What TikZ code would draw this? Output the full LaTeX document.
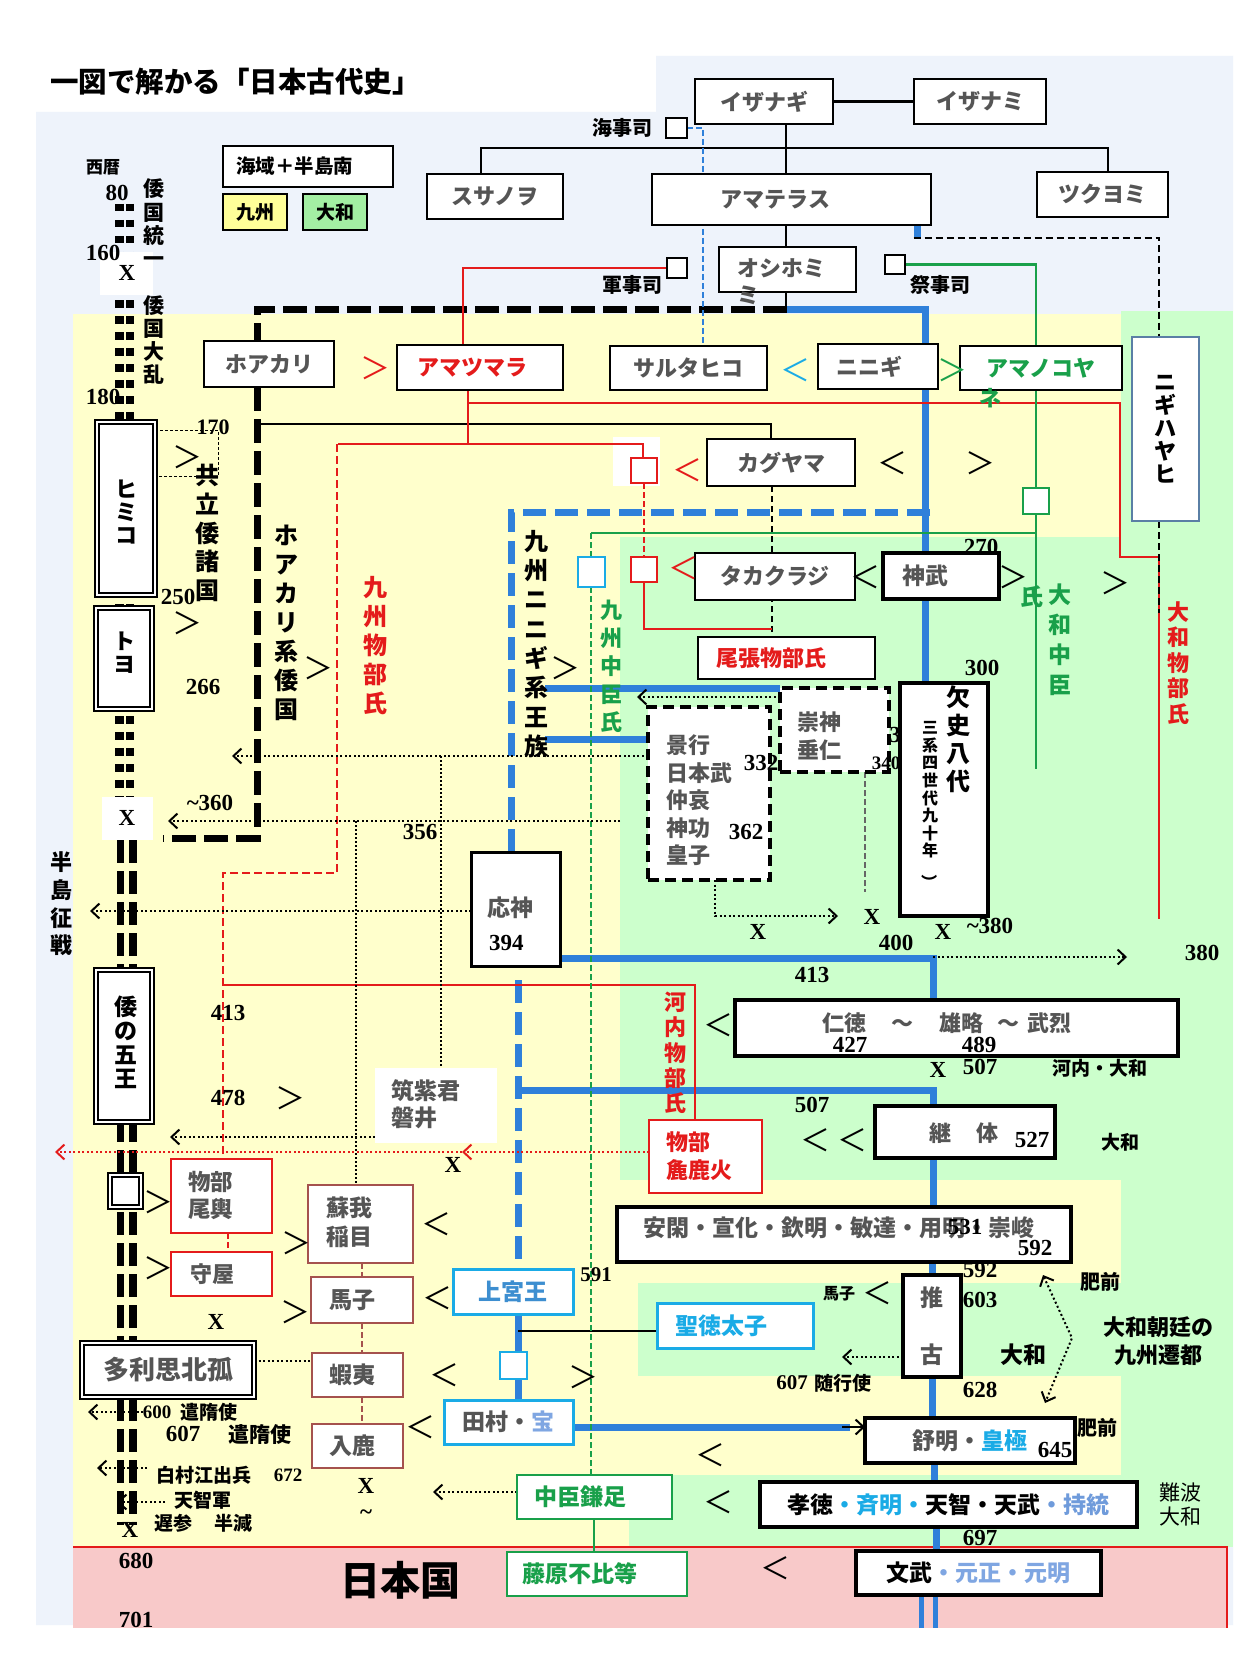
\documentclass[tikz,border=0pt]{standalone}
\usepackage{fontspec}
\usepackage{graphicx}
\setmainfont{Noto Sans CJK JP}
\newfontfamily\numf{Liberation Serif}
\usetikzlibrary{arrows.meta}
\definecolor{cBgb}{HTML}{EEF3FB}
\definecolor{cBgy}{HTML}{FFFFCC}
\definecolor{cBgg}{HTML}{CCFFCC}
\definecolor{cBgp}{HTML}{F8C9C9}
\definecolor{cBl}{HTML}{2F80DA}
\definecolor{cCy}{HTML}{1AABE6}
\definecolor{cRd}{HTML}{E41B1B}
\definecolor{cGn}{HTML}{19A04A}
\definecolor{cBr}{HTML}{A5524E}
\definecolor{cGt}{HTML}{555555}
\definecolor{cSb}{HTML}{3D8ED0}
\definecolor{cLb}{HTML}{7FA6E2}
\definecolor{cJt}{HTML}{6F9BDB}
\definecolor{cNb}{HTML}{5A7FA5}
\definecolor{cLY}{HTML}{FFFF99}
\definecolor{cLG}{HTML}{A3EFA3}
\pgfdeclarelayer{back}
\pgfdeclarelayer{mid}
\pgfsetlayers{back,mid,main}
\newcommand\myfs[2]{\fontsize{#1}{#2}\selectfont}
\newcommand\bxn[7]{\node[#2,minimum width={#5-#3},minimum height={#6-#4}] (#1) at ({(#3+#5)/2},{(#4+#6)/2}) {#7};}
\tikzset{
 base/.style={inner sep=0pt, outer sep=0pt, align=center},
 kb/.style={base, draw, line width=1.3pt, fill=white, text=cGt, font=\bfseries\myfs{22}{27}},
 tb/.style={base, draw, line width=4.5pt, fill=white, text=cGt, font=\bfseries\myfs{23}{27}},
 db/.style={base, draw, line width=4pt, dash pattern=on 11pt off 6pt, fill=white},
 rb/.style={base, draw=cRd, line width=2.8pt, fill=white, text=cGt, font=\bfseries\myfs{22}{27}},
 bb/.style={base, draw=cBr, line width=2.8pt, fill=white, text=cGt, font=\bfseries\myfs{23}{27}},
 cb/.style={base, draw=cCy, line width=3pt, fill=white, text=cGt, font=\bfseries\myfs{23}{27}},
 gb/.style={base, draw=cGn, line width=1.3pt, fill=white, text=cGn, font=\bfseries\myfs{23}{27}},
 wb/.style={base, draw, double=white, line width=1.6pt, double distance=2.4pt, fill=white},
 sq/.style={base, draw, line width=2pt, fill=white},
 nm/.style={base, font=\numf\bfseries\myfs{23}{23}},
 lab/.style={base, font=\bfseries\myfs{#1}{#1}},
 vt/.style 2 args={base, font=\bfseries\myfs{#1}{#2}},
 ch/.style={base, font=\myfs{30}{30}},
 dt/.style={line width=2pt, dash pattern=on 2pt off 2.5pt},
 ar/.style={-{Straight Barb[length=8pt,width=15pt,line width=2pt]}},
 lw/.style={line width=2.5pt},
 bw/.style={cBl, line width=7pt},
}
\begin{document}
\begin{tikzpicture}[x=1pt,y=-1pt]
\useasboundingbox (0,0) rectangle (1260,1680);

% ================= boxes =================
\node[base, anchor=west, font=\bfseries\myfs{28.5}{28.5}] (title) at (50,82) {一図で解かる「日本古代史」};
\bxn{lgA}{kb,text=black,font=\bfseries\myfs{19.5}{20}}{223}{146}{393}{187}{海域＋半島南\hspace{27pt}}
\bxn{lgB}{kb,fill=cLY,text=black,font=\bfseries\myfs{19}{20}}{223}{194}{287}{230}{九州}
\bxn{lgC}{kb,fill=cLG,text=black,font=\bfseries\myfs{19}{20}}{303}{194}{367}{230}{大和}

\bxn{izanagi}{kb}{695}{79}{833}{124}{イザナギ}
\bxn{izanami}{kb}{914}{79}{1046}{124}{イザナミ}
\bxn{susanoo}{kb}{427}{174}{563}{219}{スサノヲ}
\bxn{amaterasu}{kb}{652}{174}{931}{225}{アマテラス\hspace{32pt}}
\bxn{tsukuyomi}{kb}{1037}{172}{1168}{217}{ツクヨミ}
\bxn{oshihomi}{kb}{719}{247}{856}{292}{}
\node[base, anchor=north west, align=left, text=cGt, font=\bfseries\myfs{22}{27}] (oshiT) at (737,259) {オシホミ\\ミ};
\bxn{kaiji}{sq}{666}{118}{687}{138}{}
\bxn{gunji}{sq}{667}{258}{687}{278}{}
\bxn{saiji}{sq}{885}{255}{905}{274}{}

\bxn{hoakari}{kb}{204}{341}{334}{387}{ホアカリ}
\bxn{amatsumara}{kb,text=cRd}{397}{345}{563}{390}{アマツマラ\hspace{16pt}}
\bxn{sarutahiko}{kb}{610}{346}{767}{390}{サルタヒコ}
\bxn{ninigi}{kb}{818}{344}{938}{389}{ニニギ\hspace{18pt}}
\bxn{amanokoyane}{kb,text=cGn}{960}{346}{1122}{390}{アマノコヤ}
\node[base, text=cGn, font=\bfseries\myfs{22}{22}] (neT) at (990,398) {ネ};
\bxn{nigihayahi}{kb,draw=cNb,line width=1.2pt,text=black,font=\bfseries\myfs{22}{23}}{1132}{337}{1199}{521}{ニ\\ギ\\ハ\\ヤ\\ヒ}
\bxn{kaguyama}{kb}{707}{439}{855}{486}{カグヤマ}
\bxn{takakuraji}{kb}{695}{553}{855}{600}{タカクラジ}
\bxn{owari}{kb,text=cRd}{698}{637}{875}{679}{尾張物部氏\hspace{30pt}}
\bxn{rsq1}{sq,draw=cRd,line width=2.5pt}{631}{458}{657}{483}{}
\bxn{rsq2}{sq,draw=cRd,line width=2.5pt}{631}{557}{657}{582}{}
\bxn{gsq}{sq,draw=cGn,line width=2.5pt}{1023}{488}{1049}{514}{}
\bxn{bsq}{sq,draw=cCy,line width=2.5pt}{578}{557}{605}{587}{}

\node[nm] (n270) at (981,547) {270};
\bxn{jinmu}{tb}{883}{553}{999}{599}{神武\hspace{32pt}}
\node[nm] (n3) at (895,735) {3};
\bxn{keshi}{tb}{900}{683}{988}{916}{}
\node[vt={24}{28}] (keshiA) at (958,739) {欠\\史\\八\\代};
\node[vt={16}{17.6}] (keshiB) at (930,806) {三\\系\\四\\世\\代\\九\\十\\年\\\rotatebox{-90}{）}};
\bxn{sujin}{db}{780}{688}{889}{772}{}
\node[base, anchor=west, align=left, text=cGt, font=\bfseries\myfs{22}{28}] (sujinT) at (797,736) {崇神\\垂仁};
\bxn{keiko}{db}{648}{707}{770}{880}{}
\node[base, anchor=north west, align=left, text=cGt, font=\bfseries\myfs{22}{27.5}] (keikoT) at (666,735) {景行\\日本武\\仲哀\\神功\\皇子};
\node[nm] (n332) at (761,763) {332};
\node[nm] (n362) at (746,832) {362};
\node[nm, font=\numf\bfseries\myfs{19}{19}] (n340) at (886,763) {340};

\bxn{oujin}{tb,line width=3pt}{471}{852}{560}{966}{}
\node[base, anchor=west, text=cGt, font=\bfseries\myfs{23}{23}] (oujinT) at (487,908) {応神};
\node[nm, anchor=west] (n394) at (489,943) {394};
\bxn{nintoku}{tb}{735}{1000}{1178}{1056}{}
\node[base, anchor=west, text=cGt, font=\bfseries\myfs{22}{22}] (nintokuT) at (822,1023) {仁徳\hspace{26pt}～\hspace{26pt}雄略\hspace{13pt}～\hspace{8pt}武烈};
\node[nm] (n427) at (850,1045) {427};
\node[nm] (n489) at (979,1045) {489};
\bxn{keitai}{tb,line width=4pt}{875}{1106}{1055}{1158}{}
\node[base, text=cGt, font=\bfseries\myfs{22}{22}] (keitaiT) at (964,1133) {継\hspace{25pt}体};
\node[nm] (n527) at (1032,1140) {527};
\bxn{arakabi}{rb}{649}{1120}{762}{1193}{}
\node[base, anchor=west, align=left, text=cRd, font=\bfseries\myfs{22}{28}] (arakabiT) at (666,1156) {物部\\麁鹿火};
\bxn{tsukushi}{base,fill=white}{375}{1068}{497}{1143}{}
\node[base, anchor=west, align=left, text=cGt, font=\bfseries\myfs{23}{27}] (tsukushiT) at (391,1104.5) {筑紫君\\磐井};
\bxn{ankan}{tb}{617}{1207}{1071}{1262}{}
\node[base, anchor=west, text=cGt, font=\bfseries\myfs{23}{23}] (ankanT) at (643,1228) {安閑・宣化・欽明・敏達・用明・崇峻};
\node[nm] (n531) at (965,1227) {531};
\node[nm] (n592a) at (1035,1248) {592};
\node[nm, font=\numf\bfseries\myfs{21}{21}] (n591) at (596,1275) {591};
\bxn{jogu}{cb,text=cSb}{453}{1269}{573}{1314}{上宮王}
\bxn{shotoku}{cb,text=cCy}{657}{1303}{813}{1348}{聖徳太子\hspace{28pt}}
\bxn{brk}{cb,line width=2pt}{500}{1352}{527}{1379}{}
\bxn{tamura}{cb}{444}{1400}{573}{1444}{田村・\textcolor{cLb}{宝}}
\bxn{kamatari}{gb}{517}{1475}{672}{1519}{中臣鎌足\hspace{28pt}}
\bxn{fuhito}{gb}{507}{1552}{687}{1596}{藤原不比等\hspace{34pt}}
\bxn{suiko}{tb,line width=4pt}{903}{1275}{961}{1377}{}
\node[base, text=cGt, font=\bfseries\myfs{23}{23}] (suikoA) at (932,1298) {推};
\node[base, text=cGt, font=\bfseries\myfs{23}{23}] (suikoB) at (932,1355) {古};
\bxn{jomei}{tb}{865}{1418}{1075}{1463}{舒明・\textcolor{cCy}{皇極}}
\node[nm] (n645) at (1055,1450) {645};
\bxn{kotoku}{tb,text=black}{760}{1482}{1137}{1527}{孝徳\textcolor{cCy}{・斉明・}天智・天武\textcolor{cJt}{・持統}}
\bxn{monmu}{tb,text=black}{856}{1551}{1101}{1595}{文武\textcolor{cLb}{・元正・元明}}

% left column boxes
\bxn{himiko}{wb}{97}{422}{155}{595}{}
\node[vt={22}{23}] (himikoT) at (126,512) {ヒ\\ミ\\コ};
\bxn{toyo}{wb}{96}{608}{152}{709}{}
\node[vt={22}{23}] (toyoT) at (124,653) {ト\\ヨ};
\bxn{wanogoo}{wb}{96}{970}{152}{1122}{}
\node[vt={23}{24}] (wanogooT) at (126,1042) {倭\\の\\五\\王};
\bxn{smallsq}{wb}{110}{1175}{141}{1207}{}
\bxn{tarishi}{wb,text=cGt,font=\bfseries\myfs{26}{26}}{82}{1343}{254}{1397}{多利思北孤}
\bxn{okoshi}{rb}{171}{1159}{272}{1233}{}
\node[base, anchor=west, align=left, text=cGt, font=\bfseries\myfs{22.5}{27}] (okoshiT) at (188,1195.5) {物部\\尾輿};
\bxn{moriya}{rb}{171}{1252}{272}{1296}{守屋\hspace{19pt}}
\bxn{iname}{bb}{308}{1185}{413}{1263}{}
\node[base, anchor=west, align=left, text=cGt, font=\bfseries\myfs{23}{29}] (inameT) at (326,1222.5) {蘇我\\稲目};
\bxn{umako}{bb}{311}{1277}{413}{1323}{馬子\hspace{20pt}}
\bxn{emishi}{bb}{312}{1353}{403}{1397}{蝦夷\hspace{10pt}}
\bxn{iruka}{bb}{312}{1424}{403}{1468}{入鹿\hspace{10pt}}

% ================= labels =================
\node[lab=20] (l1) at (622,128) {海事司};
\node[lab=20] (l2) at (632,285) {軍事司};
\node[lab=20] (l3) at (940,285) {祭事司};
\node[lab=17] (l4) at (103,167) {西暦};
\node[nm] (y80) at (117,193) {80};
\node[nm] (y160) at (103,253) {160};
\node[nm] (x1) at (127,273) {X};
\node[nm] (y180) at (103,397) {180};
\node[nm, font=\numf\bfseries\myfs{22}{22}] (y170) at (213,427) {170};
\node[vt={21}{23.3}] (v1) at (154,223) {倭\\国\\統\\一};
\node[vt={21}{23.3}] (v2) at (154,340) {倭\\国\\大\\乱};
\node[vt={24}{28.6}] (v3) at (207,533) {共\\立\\倭\\諸\\国};
\node[nm] (y250) at (178,597) {250};
\node[nm] (y266) at (203,687) {266};
\node[vt={24}{29}] (v4) at (286,623) {ホ\\ア\\カ\\リ\\系\\倭\\国};
\node[vt={24}{29}, text=cRd] (v5) at (375,646) {九\\州\\物\\部\\氏};
\node[nm] (y360) at (210,803) {\textasciitilde360};
\node[nm] (x2) at (127,818) {X};
\node[nm] (y356) at (420,832) {356};
\node[vt={24}{29.3}] (v6) at (536,644) {九\\州\\ニ\\ニ\\ギ\\系\\王\\族};
\node[vt={22}{28}, text=cGn] (v7) at (611,666) {九\\州\\中\\臣\\氏};
\node[vt={23}{30}, text=cGn] (v8) at (1060,640) {大\\和\\中\\臣};
\node[base, text=cGn, font=\bfseries\myfs{23}{23}] (v8b) at (1032,597) {氏};
\node[vt={22}{25.5}, text=cRd] (v9) at (1178,663) {大\\和\\物\\部\\氏};
\node[nm] (y300) at (982,668) {300};
\node[vt={22}{27.6}] (v10) at (61,904) {半\\島\\征\\戦};
\node[nm] (x3) at (758,932) {X};
\node[nm] (x4) at (872,917) {X};
\node[nm] (y400) at (896,943) {400};
\node[nm] (x5) at (943,932) {X};
\node[nm] (y380a) at (990,926) {\textasciitilde380};
\node[nm] (y380b) at (1202,953) {380};
\node[nm] (y413a) at (812,975) {413};
\node[nm] (x6) at (938,1070) {X};
\node[nm] (y507a) at (980,1067) {507};
\node[lab=19] (l5) at (1100,1068) {河内・大和};
\node[nm] (y507b) at (812,1105) {507};
\node[lab=19] (l6) at (1120,1142) {大和};
\node[vt={22}{25.3}, text=cRd] (v11) at (675,1053) {河\\内\\物\\部\\氏};
\node[nm] (y413b) at (228,1013) {413};
\node[nm] (y478) at (228,1098) {478};
\node[nm] (x7) at (453,1165) {X};
\node[nm] (x8) at (216,1322) {X};
\node[nm] (x9) at (366,1486) {X};
\node[nm] (t1) at (366,1515) {\textasciitilde};
\node[lab=16] (l7) at (839,1294) {馬子};
\node[nm, font=\numf\bfseries\myfs{21}{21}] (y607b) at (792,1383) {607};
\node[lab=19] (l8) at (843,1383) {随行使};
\node[nm] (y592b) at (980,1270) {592};
\node[nm] (y603) at (980,1300) {603};
\node[nm] (y628) at (980,1390) {628};
\node[lab=23] (l9) at (1023,1355) {大和};
\node[lab=20] (l10) at (1100,1282) {肥前};
\node[lab=20] (l11) at (1097,1428) {肥前};
\node[vt={22}{28}] (l12) at (1158,1341) {大和朝廷の\\九州遷都};
\node[base, font=\myfs{21}{24}] (l13) at (1180,1504) {難波\\大和};
\node[nm] (y697) at (980,1538) {697};
\node[nm, font=\numf\bfseries\myfs{19}{19}] (y600) at (157,1412) {600};
\node[lab=19] (l14) at (209,1412) {遣隋使};
\node[nm] (y607a) at (183,1434) {607};
\node[lab=21] (l15) at (260,1434) {遣隋使};
\node[lab=19] (l16) at (204,1475) {白村江出兵};
\node[nm, font=\numf\bfseries\myfs{19}{19}] (y672) at (288,1475) {672};
\node[lab=19] (l17) at (203,1500) {天智軍};
\node[lab=19] (l18) at (173,1523) {遅参};
\node[lab=19] (l19) at (233,1523) {半減};
\node[nm] (x10) at (130,1530) {X};
\node[nm] (y680) at (136,1561) {680};
\node[nm] (y701) at (136,1620) {701};
\node[lab=40] (l20) at (400,1580) {日本国};

% chevrons
\node[ch, text=cRd] (c1) at (375,368) {＞};
\node[ch, text=cCy] (c2) at (795,370) {＜};
\node[ch, text=cGn] (c3) at (952,370) {＞};
\node[ch, text=cRd] (c4) at (687,470) {＜};
\node[ch, text=cRd] (c5) at (683,568) {＜};
\node[ch] (c6) at (892,463) {＜};
\node[ch] (c7) at (980,463) {＞};
\node[ch] (c8) at (865,577) {＜};
\node[ch] (c9) at (1013,577) {＞};
\node[ch] (c10) at (1115,583) {＞};
\node[ch] (c11) at (187,457) {＞};
\node[ch] (c12) at (187,623) {＞};
\node[ch] (c13) at (318,668) {＞};
\node[ch] (c14) at (565,668) {＞};
\node[ch] (c15) at (718,1025) {＜};
\node[ch] (c16) at (290,1098) {＞};
\node[ch] (c17) at (815,1140) {＜};
\node[ch] (c18) at (852,1140) {＜};
\node[ch] (c19) at (158,1202) {＞};
\node[ch] (c20) at (296,1243) {＞};
\node[ch] (c21) at (436,1224) {＜};
\node[ch] (c22) at (158,1268) {＞};
\node[ch] (c23) at (295,1312) {＞};
\node[ch] (c24) at (437,1298) {＜};
\node[ch] (c25) at (444,1375) {＜};
\node[ch] (c26) at (583,1377) {＞};
\node[ch] (c27) at (420,1427) {＜};
\node[ch] (c28) at (710,1455) {＜};
\node[ch] (c29) at (718,1502) {＜};
\node[ch] (c30) at (775,1568) {＜};
\node[ch] (c31) at (877,1293) {＜};

% free-end coordinates
\coordinate (p821) at (620,821);
\coordinate (p957) at (933,957);

% ================= backgrounds =================
\begin{pgfonlayer}{back}
\fill[white] (0,0) rectangle (1260,1680);
\fill[cBgb] (36,112) -- (656,112) -- (656,56) -- (1233,56) -- (1233,1625) -- (36,1625) -- cycle;
\fill[cBgy] (73,314) rectangle (1121,1547);
\fill[cBgg] (1121,311) rectangle (1233,1547);
\fill[cBgg] (620,537) rectangle (1121,1180);
\fill[cBgg] (638,1283) rectangle (1121,1376);
\fill[cBgg] (629,1475) rectangle (1121,1547);
\fill[cBgp] (73,1547) rectangle (1227,1628);
\draw[cRd, line width=2pt] (73,1547) -- (1227,1547) -- (1227,1628);
\end{pgfonlayer}

% ================= lines =================
\begin{pgfonlayer}{mid}
% timeline
\draw[line width=9pt, dash pattern=on 7.5pt off 8.5pt] (119.5,204) -- (119.5,805);
\draw[line width=8pt, dash pattern=on 7.5pt off 8.5pt] (130,204) -- (130,805);
\draw[line width=7pt, dash pattern=on 23pt off 8pt] (120.5,840) -- (120.5,1525);
\draw[line width=8pt, dash pattern=on 23pt off 8pt] (133,840) -- (133,1525);
\fill[white] (100,252) rectangle (153,295);
\fill[white] (102,797) rectangle (153,840);
\fill[white] (613,437) rectangle (660,486);

% black family tree
\draw[lw] (izanagi.east) -- (izanami.west);
\draw[lw] (786,0 |- izanagi.south) -- (786,0 |- amaterasu.north);
\draw[lw] (481,0 |- susanoo.north) -- (481,148) -- (1108,148) -- (1108,0 |- tsukuyomi.north);
\draw[lw] (786,0 |- amaterasu.south) -- (786,0 |- oshihomi.north);
\draw[lw] (786,0 |- oshihomi.south) -- (786,309);
\draw[line width=7pt, dash pattern=on 24pt off 8pt] (787,309) -- (257,309) -- (257,838) -- (163,838);
\draw[lw] (257,424) -- (771,424) -- (771,0 |- kaguyama.north);
\draw[line width=2pt, dash pattern=on 6pt off 4pt] (772,0 |- kaguyama.south) -- (772,0 |- owari.north);
% blue
\draw[cBl, line width=2.5pt, dash pattern=on 6pt off 3pt] (kaiji.east) -- (703,0 |- kaiji.east) -- (703,0 |- sarutahiko.north);
\draw[bw] (917,0 |- amaterasu.south) -- (917,238);
\draw[line width=2.5pt, dash pattern=on 7pt off 4pt] (913.5,238) -- (1159,238) -- (1159,0 |- nigihayahi.north);
\draw[bw] (787,309) -- (925,309) -- (925,0 |- jinmu.north);
\draw[bw] (925,0 |- jinmu.south) -- (925,0 |- keshi.north);
\draw[bw, dash pattern=on 23pt off 9pt] (930,512) -- (511,512) -- (511,0 |- oujin.north);
\draw[bw] (545,688) -- (780,688);
\draw[bw] (545,739) -- (keiko.west |- 0,739);
\draw[bw] (oujin.east |- 0,958) -- (933,958) -- (933,0 |- nintoku.north);
\draw[bw, dash pattern=on 23pt off 9pt] (518,980) -- (518,0 |- jogu.north);
\draw[bw] (518,1090) -- (933,1090) -- (933,0 |- keitai.north);
\draw[bw] (933,0 |- keitai.south) -- (933,0 |- ankan.north);
\draw[bw] (932,0 |- ankan.south) -- (932,0 |- suiko.north);
\draw[bw] (932,0 |- suiko.south) -- (932,0 |- jomei.north);
\draw[bw] (934,0 |- jomei.south) -- (934,0 |- kotoku.north);
\draw[bw] (936,0 |- kotoku.south) -- (936,0 |- monmu.north);
\draw[cBl, line width=5pt] (921,0 |- monmu.south) -- (921,1628);
\draw[cBl, line width=5pt] (935,0 |- monmu.south) -- (935,1628);
\draw[bw] (518,0 |- jogu.south) -- (518,0 |- brk.north);
\draw[bw] (518,0 |- brk.south) -- (518,0 |- tamura.north);
\draw[lw] (518,1331) -- (shotoku.west |- 0,1331);
\draw[bw] (tamura.east |- 0,1427) -- (850,1427);
\draw[line width=2pt, -{Straight Barb[length=8pt,width=15pt,line width=2pt]}] (842,1427) -- (jomei.west |- 0,1427);
% red
\draw[cRd, lw] (gunji.west) -- (463,0 |- gunji.west) -- (463,0 |- amatsumara.north);
\draw[cRd, lw] (468,0 |- amatsumara.south) -- (468,444);
\draw[cRd, lw] (468,403) -- (1120,403) -- (1120,557) -- (1159,557) -- (1159,919);
\draw[line width=2.5pt, dash pattern=on 7pt off 4pt] (1159,0 |- nigihayahi.south) -- (1159,613);
\draw[cRd, lw] (338,444) -- (643,444) -- (643,0 |- rsq1.north);
\draw[cRd, lw, dash pattern=on 6pt off 3pt] (rsq1.south) -- (rsq2.north);
\draw[cRd, lw] (rsq2.south) -- (644,629) -- (772,629);
\draw[cRd, lw, dash pattern=on 8pt off 4pt] (337,444) -- (337,873) -- (223,873) -- (223,0 |- okoshi.north);
\draw[cRd, lw] (223,985) -- (695,985) -- (695,0 |- arakabi.north);
\draw[cRd, lw, dash pattern=on 6pt off 3pt] (228,0 |- okoshi.south) -- (228,0 |- moriya.north);
% green
\draw[cGn, lw] (saiji.east) -- (1036,0 |- saiji.east) -- (1036,769);
\draw[cGn, lw] (591,533) -- (1036,533);
\draw[cGn, lw, dash pattern=on 6pt off 3pt] (591,533) -- (591,0 |- kamatari.north);
\draw[cGn, lw] (594,0 |- kamatari.south) -- (594,0 |- fuhito.north);
% brown
\draw[cBr, lw, dash pattern=on 6pt off 3pt] (362,0 |- iname.south) -- (362,0 |- umako.north);
\draw[cBr, lw, dash pattern=on 6pt off 3pt] (362,0 |- umako.south) -- (362,0 |- emishi.north);
\draw[cBr, lw, dash pattern=on 6pt off 3pt] (362,0 |- emishi.south) -- (362,0 |- iruka.north);
% grey dashed
\draw[black!60, lw, dash pattern=on 6pt off 3pt] (865,0 |- sujin.south) -- (865,892);
% dotted arrows
\draw[dt, ar] (sujin.west |- 0,697) -- (637,697);
\draw[dt, ar] (keiko.west |- 0,756) -- (232,756);
\draw[dt, ar] (p821) -- (168,821);
\draw[dt, ar] (oujin.west |- 0,911) -- (90,911);
\draw[dt, ar] (715,0 |- keiko.south) -- (715,916) -- (838,916);
\draw[dt, ar] (p957) -- (1127,957);
\draw[dt, ar] (tsukushi.west |- 0,1137) -- (170,1137);
\draw[dt] (tarishi.east |- 0,1361) -- (emishi.west |- 0,1361);
\draw[dt, ar] (143,1412) -- (88,1412);
\draw[dt, ar] (147,1468) -- (97,1468);
\draw[dt, ar] (165,1502) -- (117,1502);
\draw[dt, ar] (kamatari.west |- 0,1492) -- (433,1492);
\draw[dt, ar] (suiko.west |- 0,1357) -- (842,1357);
\draw[dt, {Straight Barb[length=8pt,width=15pt,line width=2pt]}-{Straight Barb[length=8pt,width=15pt,line width=2pt]}] (1043,1275) -- (1072,1338) -- (1045,1403);
\draw[line width=1.5pt, dash pattern=on 2pt off 2pt] (441,756) -- (441,0 |- tsukushi.north);
\draw[line width=1.5pt, dash pattern=on 2pt off 2pt] (356,821) -- (356,0 |- iname.north);
\draw[line width=1pt, dash pattern=on 3pt off 2pt] (himiko.east |- 0,430) -- (218,430) -- (218,476) -- (himiko.east |- 0,476);
\draw[dt, cRd, ar] (arakabi.west |- 0,1152) -- (462,1152);
\draw[dt, cRd, ar] (462,1152) -- (55,1152);
\end{pgfonlayer}
\end{tikzpicture}
\end{document}
